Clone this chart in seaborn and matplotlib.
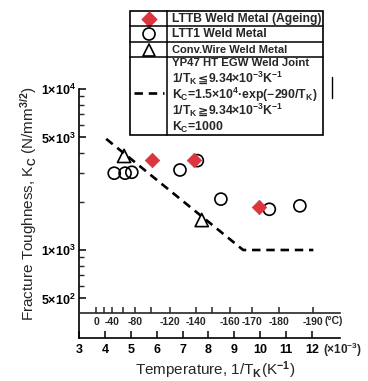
import matplotlib
matplotlib.use("Agg")
import pandas as pd
import matplotlib.pyplot as plt
import seaborn as sns
from matplotlib.ticker import FixedLocator, NullFormatter
from matplotlib.patches import Rectangle
from matplotlib.offsetbox import TextArea, HPacker, AnnotationBbox

# Verdier lest fra figuren: x = 1/T_K (x10^-3 K^-1), y = K_C (N/mm^3/2)
ltt1_x = [4.36, 4.78, 5.04, 6.90, 7.57, 8.48, 10.35, 11.53]
ltt1_k = [3000, 3000, 3040, 3140, 3590, 2070, 1790, 1880]
lttb_x = [5.83, 7.45, 9.96]
lttb_k = [3640, 3640, 1840]
conv_x = [4.74, 7.74]
conv_k = [3840, 1535]
joint_x = [4.05, 9.34, 12.05]
joint_k = [4900, 1000, 1000]

x_ticks = [3, 4, 5, 6, 7, 8, 9, 10, 11, 12]
y_ticks = [500, 1000, 5000, 10000]
y_tick_labels = ["5×10$^2$", "1×10$^3$", "5×10$^3$", "1×10$^4$"]
y_minor = [600, 700, 800, 900, 2000, 3000, 4000, 6000, 7000, 8000, 9000]
celsius_major = [0, -40, -80, -120, -140, -160, -170, -180, -190]
celsius_minor = [-20, -60, -100, -150]

RED = "#dc3540"

sns.set_style("ticks")
plt.rcParams['font.family'] = ['Liberation Sans', 'DejaVu Sans']
plt.rcParams['font.weight'] = 'bold'
plt.rcParams['mathtext.fontset'] = 'custom'
plt.rcParams['mathtext.rm'] = 'Liberation Sans:bold'
plt.rcParams['mathtext.it'] = 'Liberation Sans:bold'
plt.rcParams['mathtext.bf'] = 'Liberation Sans:bold'

W, H = 368, 381
fig = plt.figure(figsize=(W / 100, H / 100), dpi=100)


def boks(l, t, r, b):
    return [l / W, 1 - b / H, (r - l) / W, (b - t) / H]


ax = fig.add_axes(boks(79, 89, 340, 338))
ax.set_yscale('log')

# Punkter
sns.scatterplot(x=ltt1_x, y=ltt1_k, marker='o', s=75, ax=ax, zorder=3)
ax.collections[-1].set_facecolor('none')
ax.collections[-1].set_edgecolor('black')
ax.collections[-1].set_linewidth(1.2)
sns.scatterplot(x=conv_x, y=conv_k, marker='^', s=90, ax=ax, zorder=3)
ax.collections[-1].set_facecolor('none')
ax.collections[-1].set_edgecolor('black')
ax.collections[-1].set_linewidth(1.2)
sns.scatterplot(x=lttb_x, y=lttb_k, marker='D', s=55, color=RED, ax=ax,
                edgecolor=RED, linewidth=0.5, zorder=4)

# Kurve for sveiseskjøt
sns.lineplot(x=joint_x, y=joint_k, ax=ax, color='black', linewidth=1.9,
             linestyle=(0, (3.2, 2.2)), zorder=2)

ax.set_xlim(3, 13.08)
ax.set_ylim(284, 10000)
for s in ['top', 'right']:
    ax.spines[s].set_visible(False)
for s in ['left', 'bottom']:
    ax.spines[s].set_linewidth(1.2)
    ax.spines[s].set_color('black')

ax.xaxis.set_major_locator(FixedLocator(x_ticks))
ax.set_xticklabels([str(t) for t in x_ticks])
ax.yaxis.set_major_locator(FixedLocator(y_ticks))
ax.yaxis.set_minor_locator(FixedLocator(y_minor))
ax.yaxis.set_minor_formatter(NullFormatter())
ax.set_yticklabels(y_tick_labels)
ax.tick_params(axis='both', which='major', direction='in', length=5, width=1.1,
               labelsize=9, colors='black')
ax.tick_params(axis='y', which='minor', direction='in', length=3.5, width=1.0)
ax.tick_params(axis='x', which='major', pad=4)
ax.tick_params(axis='y', which='major', pad=2)

ax.set_xlabel("Temperature, 1/T$_\\mathrm{K}$(K$^{-1}$)", fontsize=11)
ax.xaxis.set_label_coords(0.52, -0.085)
ax.set_ylabel("Fracture Toughness, K$_\\mathrm{C}$ (N/mm$^{3/2}$)", fontsize=11)
ax.yaxis.set_label_coords(-0.155, 0.54)
ax.text(12.42, -0.048, "(×10$^{-3}$)", transform=ax.get_xaxis_transform(),
        fontsize=8.5, ha='left', va='center')

# Celsius-akse inne i figuren
cax = fig.add_axes(boks(79, 305, 340, 313))
cax.patch.set_alpha(0)
cax.set_xlim(ax.get_xlim())
cax.set_yticks([])
for s in ['top', 'right', 'left']:
    cax.spines[s].set_visible(False)
cax.spines['bottom'].set_linewidth(1.2)
cax.set_xticks([1000 / (c + 273.15) for c in celsius_major])
cax.set_xticklabels([str(c) for c in celsius_major])
cax.set_xticks([1000 / (c + 273.15) for c in celsius_minor], minor=True)
cax.tick_params(axis='x', which='both', direction='in', length=4, width=1.1,
                labelsize=7.5, pad=3)
cax.text(12.5, -1.05, "(°C)", transform=cax.get_xaxis_transform(),
         fontsize=7.5, ha='left', va='center')

# Forklaringstabell
lax = fig.add_axes([0, 0, 1, 1])
lax.set_xlim(0, W)
lax.set_ylim(H, 0)
lax.axis('off')
lax.add_patch(Rectangle((130, 11), 193, 124, facecolor='white',
                        edgecolor='black', linewidth=1.2))
for yy in [26, 42, 57]:
    lax.plot([130, 323], [yy, yy], color='black', linewidth=1.1)
lax.plot([166.5, 166.5], [11, 135], color='black', linewidth=1.1)
lax.scatter([149], [19], marker='D', s=55, color=RED)
lax.scatter([149], [34], marker='o', s=75, facecolor='none', edgecolor='black',
            linewidth=1.2)
lax.scatter([149], [50], marker='^', s=75, facecolor='none', edgecolor='black',
            linewidth=1.2)
lax.plot([134, 164], [93, 93], color='black', linewidth=1.9,
         linestyle=(0, (3.2, 2.2)))
tx = 172
lax.text(tx, 19, "LTTB Weld Metal (Ageing)", fontsize=8.7, va='center')
lax.text(tx, 34, "LTT1 Weld Metal", fontsize=8.7, va='center')
lax.text(tx, 50, "Conv.Wire Weld Metal", fontsize=8, va='center')
lax.text(tx, 63, "YP47 HT EGW Weld Joint", fontsize=8.2, va='center')
lax.text(tx, 95, "K$_\\mathrm{C}$=1.5×10$^4$·exp(−290/T$_\\mathrm{K}$)", fontsize=8.8, va='center')
lax.text(tx, 127, "K$_\\mathrm{C}$=1000", fontsize=8.8, va='center')


def ulikhet(y, tegn):
    deler = [TextArea("1/T$_\\mathrm{K}$", textprops=dict(fontsize=8.8)),
             TextArea(tegn, textprops=dict(fontsize=8.8, family='DejaVu Sans')),
             TextArea("9.34×10$^{-3}$K$^{-1}$", textprops=dict(fontsize=8.8))]
    rad = HPacker(children=deler, align='baseline', pad=0, sep=0)
    lax.add_artist(AnnotationBbox(rad, (tx, y), xycoords='data',
                                  box_alignment=(0, 0.5), frameon=False, pad=0))


ulikhet(79, "≦")
ulikhet(111, "≧")
lax.plot([332, 332], [77, 98], color='black', linewidth=1.0)

fig.savefig("out.png", dpi=100)
